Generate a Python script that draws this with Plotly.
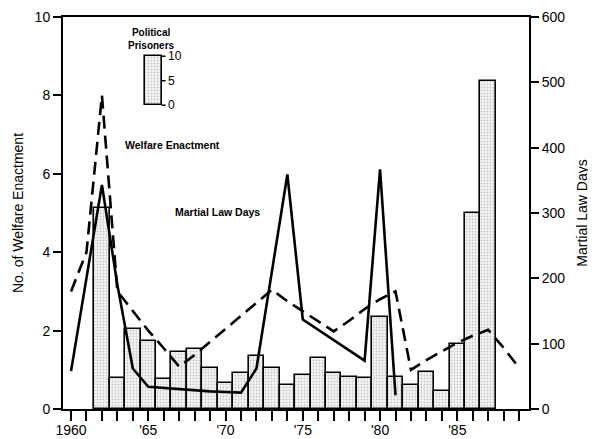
import plotly.graph_objects as go

# ---- data ----
bar_years = list(range(1962, 1988))
political_prisoners = [41, 6.3, 16.4, 13.9, 6.1, 11.7, 12.3, 8.4, 5.3, 7.4, 10.8, 8.4, 4.9,
                       7.0, 10.4, 7.4, 6.5, 6.3, 18.8, 6.5, 4.9, 7.6, 3.7, 13.3, 40, 67]

welfare_years = list(range(1960, 1990))
welfare_enactment = [3.0, 4.0, 8.0, 3.0, 2.5, 2.0, 1.55, 1.08, 1.38, 1.71, 2.05, 2.38, 2.71,
                     3.04, 2.75, 2.5, 2.23, 1.98, 2.25, 2.55, 2.8, 3.0, 1.0, 1.25, 1.47,
                     1.69, 1.87, 2.02, 1.56, 1.05]

martial_years = list(range(1960, 1982))
martial_law_days = [58, 200, 343, 190, 62, 34, 32, 30, 29, 27, 26, 25, 62, 210, 359, 137,
                    121, 105, 90, 74, 367, 21]

tick_years = list(range(1960, 1990))
tick_labels = {1960: "1960", 1965: "'65", 1970: "'70", 1975: "'75", 1980: "'80", 1985: "'85"}

legend_scale = [0, 5, 10]

FONT = "Liberation Sans, Arial, sans-serif"
BAR_MARKER = dict(color="#f5f5f5", line=dict(color="black", width=1.6),
                  pattern=dict(shape=".", fgcolor="#9a9a9a", size=3, solidity=0.3))

fig = go.Figure()

fig.add_trace(go.Bar(
    x=bar_years, y=political_prisoners, width=1.0, marker=BAR_MARKER,
    yaxis="y", showlegend=False))

# legend glyph for political prisoners (0-10 on prisoner scale)
lx0, lx1 = 1964.8, 1965.87
ly0 = 62
fig.add_trace(go.Bar(
    x=[(lx0 + lx1) / 2], y=[legend_scale[-1]], base=[ly0], width=lx1 - lx0,
    marker=BAR_MARKER, yaxis="y", showlegend=False, hoverinfo="skip"))

fig.add_trace(go.Scatter(
    x=welfare_years, y=welfare_enactment, mode="lines",
    line=dict(color="black", width=2.6, dash="13px,7px"),
    yaxis="y2", showlegend=False))

fig.add_trace(go.Scatter(
    x=martial_years, y=martial_law_days, mode="lines",
    line=dict(color="black", width=2.6),
    yaxis="y3", showlegend=False))

# page body has an 8px default margin, so the figure is sized/positioned to compensate
fig.update_layout(
    width=588, height=431,
    margin=dict(l=55, r=67, t=9, b=30, autoexpand=False),
    paper_bgcolor="white", plot_bgcolor="white",
    font=dict(family=FONT, color="black", size=14),
    bargap=0, barmode="overlay",
    xaxis=dict(range=[1959.48, 1989.64], tickmode="array", tickvals=tick_years,
               ticktext=[tick_labels.get(y, "") for y in tick_years],
               ticks="outside", ticklen=10, tickwidth=1.5, tickcolor="black",
               showline=True, linecolor="black", linewidth=1.5, mirror=True,
               showgrid=False, zeroline=False, tickfont=dict(size=14),
               ticklabelstandoff=-3),
    yaxis=dict(range=[0, 80], visible=False, showgrid=False, zeroline=False),
    yaxis2=dict(range=[0, 10], overlaying="y", side="left", tickvals=[0, 2, 4, 6, 8, 10],
                ticks="outside", ticklen=8, tickwidth=1.5, tickcolor="black",
                showline=True, linecolor="black", linewidth=2,
                showgrid=False, zeroline=False, tickfont=dict(size=14),
                title=dict(text="No. of Welfare Enactment", font=dict(size=14), standoff=8)),
    yaxis3=dict(range=[0, 600], overlaying="y", side="right",
                tickvals=[0, 100, 200, 300, 400, 500, 600],
                ticks="outside", ticklen=8, tickwidth=1.5, tickcolor="black",
                showline=True, linecolor="black", linewidth=2,
                showgrid=False, zeroline=False, tickfont=dict(size=14),
                title=dict(text="Martial Law Days", font=dict(size=14), standoff=13)),
)

for v in legend_scale:
    fig.add_shape(type="line", xref="x", yref="y", x0=lx1, x1=lx1 + 0.25,
                  y0=ly0 + v, y1=ly0 + v, line=dict(color="black", width=1.5))
    fig.add_annotation(x=lx1 + 0.3, y=ly0 + v, xref="x", yref="y", text=str(v),
                       showarrow=False, xanchor="left", yanchor="middle",
                       font=dict(size=12, family=FONT))

fig.add_annotation(x=1965.2, y=9.44, xref="x", yref="y2",
                   text="<b>Political<br>Prisoners</b>", showarrow=False,
                   font=dict(size=10, family=FONT), align="center")
fig.add_annotation(x=1966.54, y=6.73, xref="x", yref="y2",
                   text="<b>Welfare Enactment</b>", showarrow=False,
                   font=dict(size=10.5, family=FONT))
fig.add_annotation(x=1969.45, y=5.02, xref="x", yref="y2",
                   text="<b>Martial Law Days</b>", showarrow=False,
                   font=dict(size=10.5, family=FONT))

fig.write_html("out.html")
